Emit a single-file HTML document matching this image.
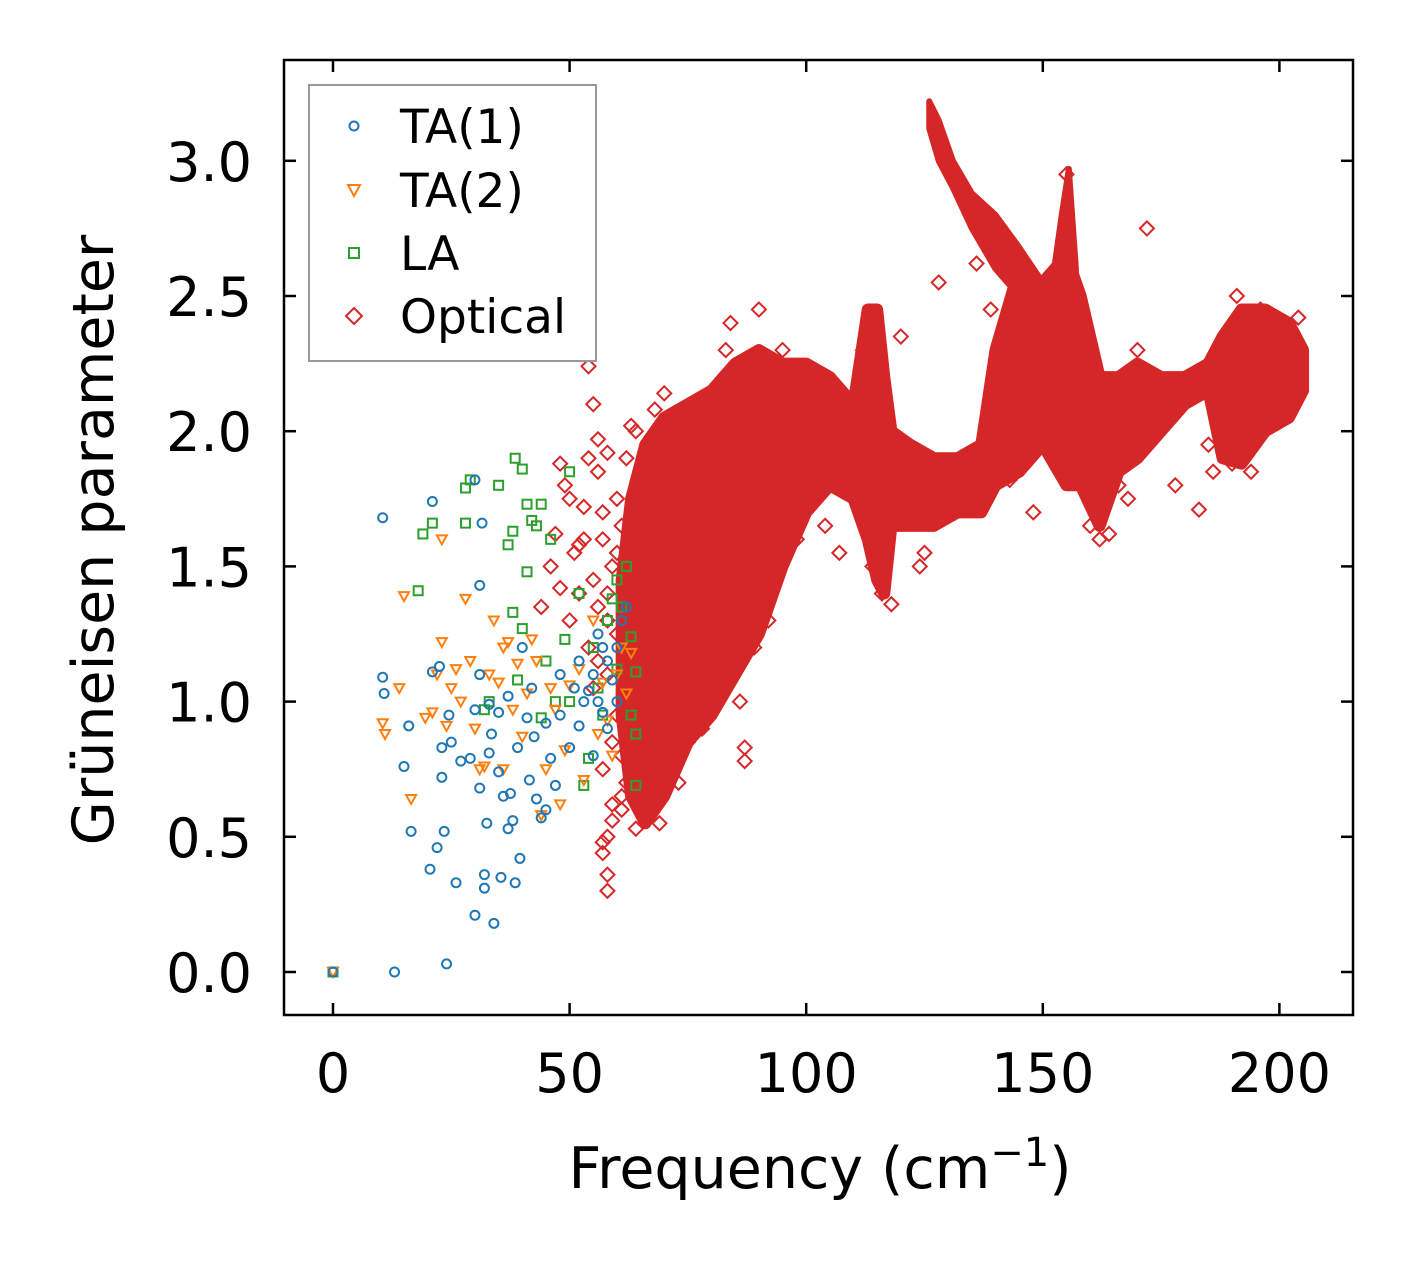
<!DOCTYPE html>
<html><head><meta charset="utf-8"><style>
html,body{margin:0;padding:0;background:#fff;}
svg{display:block;font-family:"DejaVu Sans","Liberation Sans",sans-serif;}
</style></head><body>
<svg id="chart" width="1413" height="1264" viewBox="0 0 1413 1264">
<g id="plot"></g>
<rect x="284" y="60" width="1069" height="955" fill="none" stroke="#000" stroke-width="2.5"/>
<g id="axes"></g>
<text x="820" y="1188" font-size="57" text-anchor="middle">Frequency (cm<tspan dy="-22" font-size="40">−1</tspan><tspan dy="22">)</tspan></text>
<text transform="translate(113,540) rotate(-90)" font-size="57" text-anchor="middle">Grüneisen parameter</text>
<g>
<rect x="309" y="85" width="287" height="276" fill="#fff" stroke="#999" stroke-width="2"/>
<circle cx="354" cy="126" r="4.5" fill="none" stroke="#1f77b4" stroke-width="2"/>
<path d="M348,185 L360,185 L354,196 Z" fill="none" stroke="#ff7f0e" stroke-width="2"/>
<rect x="349" y="248" width="10" height="10" fill="none" stroke="#2ca02c" stroke-width="2"/>
<path d="M354,308 L362,316 L354,324 L346,316 Z" fill="none" stroke="#d62728" stroke-width="2"/>
<text x="400" y="143" font-size="47">TA(1)</text>
<text x="400" y="207" font-size="47">TA(2)</text>
<text x="400" y="270" font-size="47">LA</text>
<text x="400" y="333" font-size="47">Optical</text>
</g>
</svg>
<script>
const xTicks=[0,50,100,150,200];
const yTicks=[0.0,0.5,1.0,1.5,2.0,2.5,3.0];
const yTickLabels=["0.0","0.5","1.0","1.5","2.0","2.5","3.0"];
const ta1X=[0,10.5,10.5,10.8,13,15,16,16.5,20.5,21,21,22,22.5,23,23,23.5,24,24.5,25,26,27,29,30,30,31,31,31.5,32,32,32.5,33,33.5,34,35,35.5,36,37,37.5,38,38.5,39,39.5,40,41,41.5,42.5,43,44,45,46,47,48,50,52,54,55,56,57,58,59,60,61,62,53,55,57,35,37,42,48,51,56,60,30,31,33,45,52,58];
const ta1Y=[0,1.68,1.09,1.03,0,0.76,0.91,0.52,0.38,1.74,1.11,0.46,1.13,0.83,0.72,0.52,0.03,0.95,0.85,0.33,0.78,0.79,0.21,1.82,0.68,1.43,1.66,0.36,0.31,0.55,0.81,0.88,0.18,0.74,0.35,0.65,0.53,0.66,0.56,0.33,0.83,0.42,1.2,0.94,0.71,0.87,0.64,0.57,0.6,0.79,0.69,0.95,0.83,0.91,1.04,1.1,1.0,0.96,1.15,1.08,1.2,1.3,1.35,1.0,0.8,1.2,0.96,1.02,1.05,1.1,1.05,1.25,1.0,0.97,1.1,0.99,0.92,1.15,0.9];
const ta2X=[0,10.5,11,14,15,16.5,19.5,21,22,23,23,24,25,26,27,28,29,30,31,32,33,34,35,36,37,38,39,40,41,42,44,45,46,48,49,50,52,53,55,56,57,58,59,60,61,62,63,36,43,47];
const ta2Y=[0,0.92,0.88,1.05,1.39,0.64,0.94,0.96,1.1,1.22,1.6,0.91,1.05,1.12,1.0,1.38,1.15,0.9,0.75,0.76,1.1,1.3,1.07,1.2,1.22,0.97,1.14,0.87,1.03,1.23,0.58,0.75,1.05,0.62,0.82,1.06,1.12,0.71,1.3,0.88,1.07,0.93,0.8,1.1,1.2,1.03,1.18,0.75,1.15,0.97];
const laX=[0,18,19,21,28,28,29,32,33,35,37,38,38.5,38,40,40,41,41,42,43,44,45,46,49,50,50,52,53,54,55,56,58,59,60,61,62,63,64,64,64,63,60,57,47,44,39];
const laY=[0,1.41,1.62,1.66,1.79,1.66,1.82,0.97,1.0,1.8,1.58,1.63,1.9,1.33,1.86,1.27,1.48,1.73,1.67,1.65,1.73,1.15,1.6,1.23,1.85,1.0,1.4,0.69,0.79,1.2,1.05,1.3,1.38,1.45,1.35,1.5,0.95,0.88,0.69,1.11,1.24,1.12,0.95,1.0,0.94,1.08];
const optX=[54,54,55,53,56,57,58,58,60,57,58,58,59,61,63,64,65,66,68,63,65,68,70,72,75,78,81,83,84,87,87,90,86,89,95,104,107,116,118,125,155,153,143,148,160,162,166,170,175,178,183,185,190,191,196,150,157,48,50,52,46,44,47,49,51,53,55,56,57,58,59,60,61,48,50,52,54,56,58,60,55,57,59,61,62,56,58,60,62,64,57,59,61,66,69,73,77,82,92,98,112,114,120,124,128,136,139,146,152,164,168,172,186,189,194,199,204];
const optY=[2.24,1.9,2.1,1.6,1.97,1.7,1.4,1.92,1.55,0.44,0.36,0.3,0.56,0.6,0.9,0.53,0.73,0.57,0.66,2.02,1.75,2.08,2.14,1.7,0.85,0.9,2.15,2.3,2.4,0.78,0.83,2.45,1.0,1.2,2.3,1.65,1.55,1.4,1.36,1.55,2.95,2.5,1.82,1.7,1.65,1.6,1.8,2.3,2.05,1.8,1.71,1.95,1.88,2.5,2.45,1.95,2.0,1.88,1.75,1.58,1.5,1.35,1.62,1.8,1.55,1.72,1.45,1.85,1.6,1.3,1.5,1.25,1.65,1.42,1.3,1.4,1.2,1.15,1.1,0.95,1.05,0.75,0.85,0.65,0.7,1.35,0.5,1.75,1.9,2.0,0.48,0.62,0.8,1.85,0.55,0.7,0.95,1.05,1.3,1.6,2.3,1.5,2.35,1.5,2.55,2.62,2.45,2.6,1.9,1.62,1.75,2.75,1.85,2.2,1.85,2.3,2.42,2.48,2.2];
const bandX=[61,63,66,70,75,80,85,90,95,100,105,110,113,115,116.5,118,122,127,132,137,140,145,150,155,158,162,166,170,175,180,185,188,192,197,202,205];
const bandLow=[0.95,0.65,0.55,0.65,0.85,0.95,1.1,1.25,1.5,1.7,1.8,1.75,1.6,1.45,1.4,1.65,1.65,1.65,1.7,1.7,1.8,1.85,1.95,1.8,1.8,1.65,1.85,1.9,2.0,2.1,2.15,1.9,1.88,2.0,2.05,2.15];
const bandHigh=[1.45,1.75,1.95,2.05,2.1,2.15,2.25,2.3,2.25,2.25,2.2,2.1,2.45,2.45,2.2,2.0,1.95,1.9,1.9,1.95,2.3,2.6,2.55,2.65,2.5,2.2,2.2,2.25,2.2,2.2,2.25,2.35,2.45,2.45,2.4,2.3];
const branchX=[126,128,131,135,140,145,150];
const branchLow=[3.12,3.0,2.9,2.75,2.6,2.5,2.4];
const branchHigh=[3.22,3.15,3.0,2.88,2.8,2.68,2.55];
const spikeX=[152,154,155.5,157];
const spikeLow=[2.35,2.45,2.5,2.3];
const spikeHigh=[2.55,2.8,2.97,2.6];

const NS="http://www.w3.org/2000/svg";
const sx=v=>333+v*4.732;
const sy=v=>972-v*270.4;
const plot=document.getElementById('plot');
const axes=document.getElementById('axes');
function mk(tag,attrs,parent){const e=document.createElementNS(NS,tag);for(const k in attrs)e.setAttribute(k,attrs[k]);parent.appendChild(e);return e;}
const RED="#d62728";
function band(xs,lo,hi,name,w){
  let pts=xs.map((x,i)=>sx(x)+","+sy(hi[i]));
  for(let i=xs.length-1;i>=0;i--)pts.push(sx(xs[i])+","+sy(lo[i]));
  const p=mk('polygon',{points:pts.join(' '),fill:RED,stroke:RED,'stroke-width':w,'stroke-linejoin':'round'},plot);
  
  
}
band(bandX,bandLow,bandHigh,'optical-dense-band',12);
band(branchX,branchLow,branchHigh,'optical-upper-branch',6);
band(spikeX,spikeLow,spikeHigh,'optical-spike',6);
optX.forEach((x,i)=>{const cx=sx(x),cy=sy(optY[i]);
  const p=mk('path',{d:`M${cx},${cy-7}L${cx+7},${cy}L${cx},${cy+7}L${cx-7},${cy}Z`,fill:'none',stroke:RED,'stroke-width':2},plot);
  
  });
laX.forEach((x,i)=>{const cx=sx(x),cy=sy(laY[i]);
  const p=mk('rect',{x:cx-4.5,y:cy-4.5,width:9,height:9,fill:'none',stroke:'#2ca02c','stroke-width':2},plot);
  
  });
ta2X.forEach((x,i)=>{const cx=sx(x),cy=sy(ta2Y[i]);
  const p=mk('path',{d:`M${cx-5},${cy-4}L${cx+5},${cy-4}L${cx},${cy+5}Z`,fill:'none',stroke:'#ff7f0e','stroke-width':2},plot);
  
  });
ta1X.forEach((x,i)=>{
  const p=mk('circle',{cx:sx(x),cy:sy(ta1Y[i]),r:4.5,fill:'none',stroke:'#1f77b4','stroke-width':2},plot);
  
  });
xTicks.forEach(t=>{const x=sx(t);
  const a=mk('line',{x1:x,x2:x,y1:1015,y2:1003,stroke:'#000','stroke-width':2.5},axes);
  
  
  const b=mk('line',{x1:x,x2:x,y1:60,y2:72,stroke:'#000','stroke-width':2.5},axes);
  
  
  const l=mk('text',{x:x,y:1092,'font-size':54,'text-anchor':'middle'},axes);l.textContent=String(t);
  
  });
yTicks.forEach((t,i)=>{const y=sy(t);
  const a=mk('line',{x1:284,x2:296,y1:y,y2:y,stroke:'#000','stroke-width':2.5},axes);
  
  
  const b=mk('line',{x1:1341,x2:1353,y1:y,y2:y,stroke:'#000','stroke-width':2.5},axes);
  
  
  const l=mk('text',{x:252,y:y+20,'font-size':54,'text-anchor':'end'},axes);l.textContent=yTickLabels[i];
  
  });
</script>
</body></html>
